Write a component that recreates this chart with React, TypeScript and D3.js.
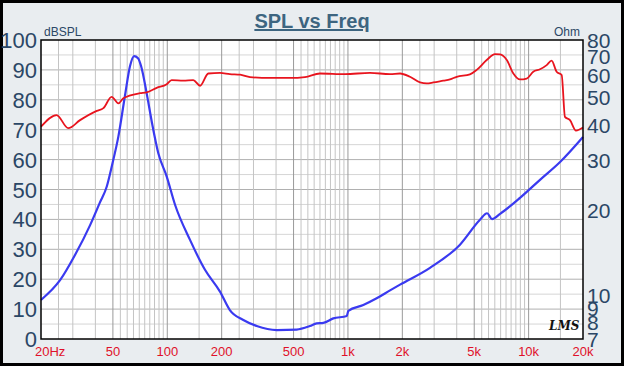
import React from "react";
import * as d3 from "d3";

const splFreq = [20, 24.4, 28.3, 32.9, 40.7, 44.3, 49.2, 53.6, 57.1, 70.6, 76.9, 87.4, 99.3, 105.7, 122.7, 139.3, 151.8, 168.7, 195.8, 222, 253, 287, 370, 478, 578, 700, 964, 1324, 1710, 1942, 2206, 2506, 2730, 2968, 3370, 3671, 3999, 4734, 5161, 5861, 6516, 6950, 7573, 8233, 8958, 9754, 10610, 11560, 12590, 13400, 14290, 15240, 15890, 16940, 18290, 20000];
const splDb = [71, 74.9, 70.5, 73.2, 76.3, 77.2, 81, 78.8, 80.5, 82.2, 82.5, 84, 85.2, 86.6, 86.4, 86.6, 84.7, 88.8, 89, 88.6, 88.4, 87.6, 87.3, 87.3, 87.6, 88.8, 88.6, 89, 88.6, 88.8, 87.7, 85.8, 85.5, 85.8, 86.4, 86.8, 87.7, 88.5, 90, 93.3, 95.3, 95.2, 93.3, 88.8, 86.8, 87.1, 89.4, 90.2, 91.6, 93.1, 89.4, 88.3, 74.3, 73.2, 69.7, 70.7];

const impFreq = [20, 25.5, 30.9, 37.4, 42.4, 46.2, 49.5, 53.6, 58.4, 62.2, 65.5, 68.9, 71.6, 76.9, 82.3, 89.2, 99.3, 110.4, 133.6, 161.7, 195.8, 222, 263.6, 312.7, 403.5, 520, 616, 671, 731, 830, 985, 1005, 1216, 1442, 1710, 1942, 2845, 4170, 5380, 5890, 6270, 6950, 8958, 11560, 14930, 20000];
const impOhm = [9.62, 11.3, 13.9, 17.7, 21.3, 24.2, 28.9, 36.4, 51.1, 64.7, 70.2, 69.0, 64.7, 51.8, 40.7, 31.8, 26.3, 20.9, 15.7, 12.3, 10.3, 8.86, 8.17, 7.78, 7.53, 7.56, 7.78, 7.95, 7.98, 8.28, 8.44, 8.81, 9.23, 9.75, 10.4, 10.9, 12.5, 15.1, 18.5, 19.5, 18.6, 19.4, 22.1, 25.6, 29.6, 36.3];

const dbTicks = [0, 10, 20, 30, 40, 50, 60, 70, 80, 90, 100];
const ohmTicks = [7, 8, 9, 10, 20, 30, 40, 50, 60, 70, 80];
const freqTicks = [20, 50, 100, 200, 500, 1000, 2000, 5000, 10000, 20000];
const freqLabels = ["20Hz", "50", "100", "200", "500", "1k", "2k", "5k", "10k", "20k"];
const gridSteps = [1, 1.5, 2, 2.5, 3, 4, 5, 5.5, 6, 6.5, 7, 7.5, 8, 8.5, 9, 9.5];
const strongSteps = [1, 2, 5];

export default function App() {
  const W = 624, H = 366;
  const L = 41, R = 583, T = 40, B = 339;
  const x = d3.scaleLog().domain([20, 20000]).range([L, R]);
  const yDb = d3.scaleLinear().domain([0, 100]).range([B, T]);
  const yOhm = d3.scaleLog().domain([7, 80]).range([B, T]);

  const gridF: { f: number; strong: boolean }[] = [];
  for (const dec of [10, 100, 1000, 10000]) {
    for (const k of gridSteps) {
      const f = dec * k;
      if (f > 20 && f < 20000) gridF.push({ f, strong: strongSteps.includes(k) });
    }
  }
  const gridDb: number[] = [];
  for (let v = 5; v < 100; v += 5) gridDb.push(v);

  const splLine = d3.line<number>().x((_, i) => x(splFreq[i])).y((d) => yDb(d)).curve(d3.curveMonotoneX);
  const impLine = d3.line<number>().x((_, i) => x(impFreq[i])).y((d) => yOhm(d)).curve(d3.curveMonotoneX);

  const labelColor = "#2b4766";
  return (
    <svg width={W} height={H} style={{ position: "absolute", left: 0, top: 0 }} fontFamily="Arial, 'Liberation Sans', sans-serif">
      <rect x={0} y={0} width={W} height={H} fill="#000" />
      <rect x={3} y={3} width={W - 6} height={H - 6} fill="#e9edf0" />
      <rect x={L} y={T} width={R - L} height={B - T} fill="#fff" />
      {gridDb.map((v) => (
        <line key={"h" + v} x1={L} x2={R} y1={yDb(v)} y2={yDb(v)} stroke={v % 10 === 0 ? "#b0b0b0" : "#d6d6d6"} strokeWidth={1} />
      ))}
      {gridF.map((g) => (
        <line key={"v" + g.f} x1={x(g.f)} x2={x(g.f)} y1={T} y2={B} stroke={g.strong ? "#9a9a9a" : "#c4c4c4"} strokeWidth={1} />
      ))}
      <path d={impLine(impOhm) || ""} fill="none" stroke="#3a3af0" strokeWidth={2.2} />
      <path d={splLine(splDb) || ""} fill="none" stroke="#e8141e" strokeWidth={1.8} />
      <rect x={L} y={T} width={R - L} height={B - T} fill="none" stroke="#000" strokeWidth={1.5} />
      <text x={W / 2} y={28} textAnchor="middle" fontSize={20} fontWeight="bold" fill="#3d6580" textDecoration="underline">SPL vs Freq</text>
      <text x={44} y={36} fontSize={12} fill={labelColor}>dBSPL</text>
      <text x={580} y={36} fontSize={12} fill={labelColor} textAnchor="end">Ohm</text>
      {dbTicks.map((v) => (
        <text key={"l" + v} x={37} y={yDb(v) + 8} textAnchor="end" fontSize={22} fill={labelColor}>{v}</text>
      ))}
      {ohmTicks.map((v) => (
        <text key={"r" + v} x={587} y={yOhm(v) + 7.5} textAnchor="start" fontSize={21} fill={labelColor}>{v}</text>
      ))}
      {freqTicks.map((f, i) => (
        <text key={"f" + f} x={i === 0 ? x(f) - 6 : x(f)} y={356} textAnchor={i === 0 ? "start" : "middle"} fontSize={13} fill="#e0102a">{freqLabels[i]}</text>
      ))}
      <text x={549} y={330} fontSize={12} fontStyle="italic" fontWeight="bold" fontFamily="'DejaVu Serif', serif" fill="#111">LMS</text>
    </svg>
  );
}
